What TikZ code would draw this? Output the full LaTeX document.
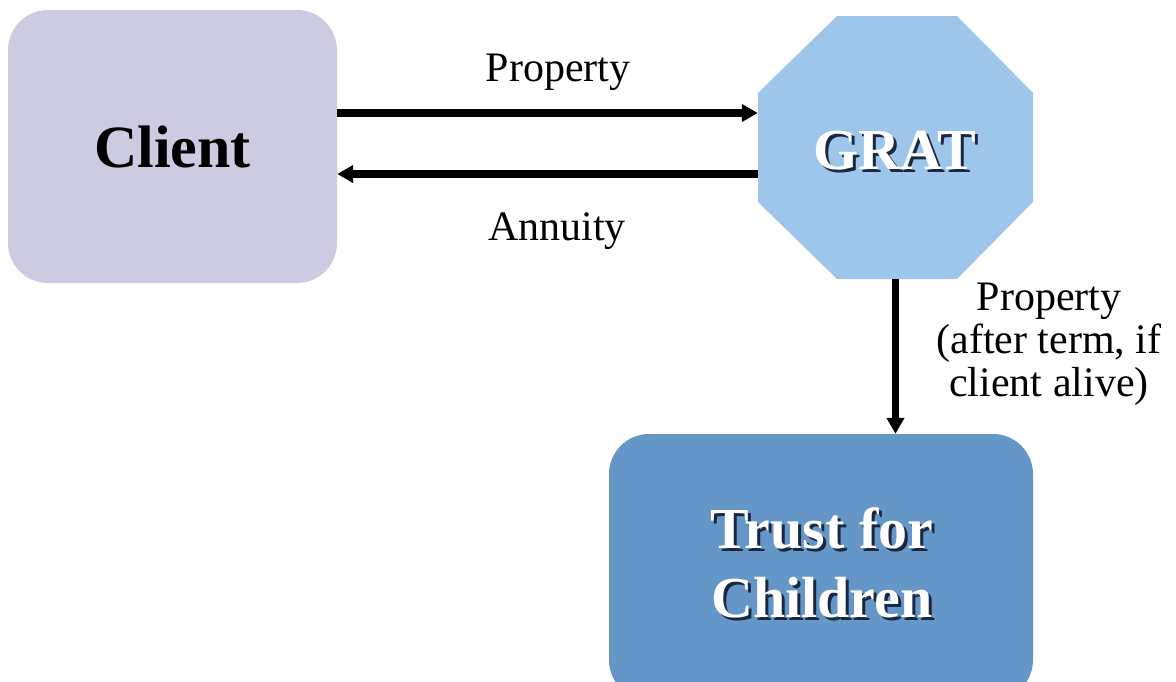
\documentclass[tikz,border=0pt]{standalone}
\usepackage{fontspec}
\setmainfont{Liberation Serif}
\usetikzlibrary{arrows.meta}
\definecolor{clientc}{HTML}{CCCBE1}
\definecolor{gratc}{HTML}{9DC6EA}
\definecolor{trustc}{HTML}{6496C8}
\definecolor{shadowc}{HTML}{1A2740}
\newcommand\shtext[1]{\makebox[0pt][l]{\raisebox{-3pt}{\hspace{3pt}\textcolor{shadowc}{#1}}}\textcolor{white}{#1}}
\tikzset{
  boxstyle/.style={rectangle, rounded corners=40pt, inner sep=0pt, align=center},
  arr/.style={line width=7.5pt, -{Triangle[length=16pt,width=17pt]}, shorten >=0pt},
  lbl/.style={font=\fontsize{42}{43}\selectfont, align=center, inner sep=0pt}
}
\begin{document}
\begin{tikzpicture}[x=1pt,y=-1pt]
\useasboundingbox (0,0) rectangle (1176,681);
\node[boxstyle, fill=clientc, minimum width=329pt, minimum height=273pt,
      font=\fontsize{60}{72}\selectfont\bfseries] (client) at (172.5,146.5) {Client};
\node[rectangle, inner sep=0pt, minimum width=275pt, minimum height=263pt] (grat) at (895.5,147.5) {};
\fill[gratc] (837,16) -- (957,16) -- (1033,93) -- (1033,202) -- (957,279) -- (837,279) -- (758,202) -- (758,93) -- cycle;
\node[inner sep=0pt, font=\fontsize{58}{69}\selectfont\bfseries] (gratlabel) at (895,152) {\shtext{GRAT}};
\node[boxstyle, fill=trustc, minimum width=424pt, minimum height=266pt] (trust) at (821,567) {};
\node[inner sep=0pt, align=center, font=\fontsize{58}{69}\selectfont\bfseries] (trustlabel) at (822,564) {\shtext{Trust for}\\\shtext{Children}};
\coordinate (ytop) at (0,113);
\coordinate (ybot) at (0,174);
\draw[arr] (client.east |- ytop) -- (grat.west |- ytop);
\draw[arr] (grat.west |- ybot) -- (client.east |- ybot);
\draw[arr, line width=6.5pt] (grat.south) -- (grat.south |- trust.north);
\node[lbl] (prop1) at (558,72) {Property};
\node[lbl] (ann) at (557,231) {Annuity};
\node[lbl] (prop2) at (1049,344) {Property\\(after term, if\\client alive)};
\end{tikzpicture}
\end{document}
